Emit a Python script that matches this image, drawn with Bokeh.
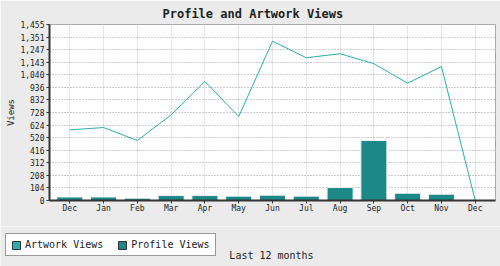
from bokeh.plotting import figure
from bokeh.layouts import column
from bokeh.models import (Range1d, FixedTicker, Legend, LegendItem, ColumnDataSource, Label)
from bokeh.embed import file_html
from bokeh.resources import INLINE

months = ["Dec", "Jan", "Feb", "Mar", "Apr", "May", "Jun", "Jul", "Aug", "Sep", "Oct", "Nov", "Dec"]
artwork_views = [584, 603, 496, 708, 984, 694, 1317, 1180, 1213, 1131, 970, 1108, 0]
profile_views = [29, 29, 19, 41, 41, 36, 44, 36, 107, 496, 60, 52, 0]
y_max = 1455
y_tick_labels = ["0", "104", "208", "312", "416", "520", "624", "728", "832", "936",
                 "1,040", "1,143", "1,247", "1,351", "1,455"]

FONT = "DejaVu Sans Mono"
LINE_C = "#2aaeae"
BAR_C = "#1c8888"
BG = "#ebebeb"
NAN = float("nan")

xs = list(range(len(months)))
src = ColumnDataSource(dict(x=xs, art=artwork_views, prof=profile_views))

p = figure(width=500, height=226, output_backend="svg", toolbar_location=None,
           x_range=Range1d(-0.6, len(months) - 0.4), y_range=Range1d(0, y_max),
           min_border_left=49, min_border_right=5, min_border_top=24, min_border_bottom=26,
           background_fill_color="white", border_fill_color=BG, frame_align=False)

p.title.text = "Profile and Artwork Views"
p.title.text_font = FONT
p.title.text_font_size = "12px"
p.title.text_font_style = "bold"
p.title.text_color = "#222222"
p.title.align = "left"
p.title.offset = 113
p.title.standoff = 8

p.outline_line_color = "#aaaaaa"
p.outline_line_width = 1

bars = p.vbar(x="x", top="prof", width=0.77, source=src, fill_color=BAR_C,
              line_color="#f2f2f2", line_width=1)
line = p.line(x="x", y="art", source=src, line_color=LINE_C, line_width=1)

yt = [y_max * i / 14 for i in range(15)]
p.yaxis.ticker = FixedTicker(ticks=yt)
p.yaxis.major_label_overrides = {t: lab for t, lab in zip(yt, y_tick_labels)}
p.xaxis.ticker = FixedTicker(ticks=xs)
p.xaxis.major_label_overrides = {i: m for i, m in enumerate(months)}

for ax in (p.xaxis[0], p.yaxis[0]):
    ax.major_label_text_font = FONT
    ax.major_label_text_font_size = "8px"
    ax.major_label_text_color = "#222222"
    ax.axis_line_color = "#333333"
    ax.axis_line_width = 2
    ax.major_tick_line_color = "#333333"
    ax.major_tick_out = 3
    ax.major_tick_in = 0
    ax.minor_tick_line_color = None
    ax.axis_label_text_font = FONT
    ax.axis_label_text_font_style = "normal"
    ax.axis_label_text_color = "#222222"

p.yaxis.axis_label = "Views"
p.yaxis.axis_label_text_font_size = "9px"
p.yaxis.major_label_standoff = 2
p.yaxis.axis_label_standoff = 1
p.xaxis.major_label_standoff = 0

p.xgrid.grid_line_color = "#e6e6e6"
p.xgrid.grid_line_width = 1
p.ygrid.grid_line_color = "#999999"
p.ygrid.grid_line_dash = "1 2"
p.ygrid.grid_line_width = 1

# bottom strip: legend and x-axis title
p2 = figure(width=500, height=40, output_backend="svg", toolbar_location=None,
            x_range=Range1d(0, 500), y_range=Range1d(0, 40),
            x_axis_location=None, y_axis_location=None,
            min_border=0, min_border_left=0, min_border_right=0,
            min_border_top=0, min_border_bottom=0,
            background_fill_color=BG, border_fill_color=BG,
            outline_line_color=None, frame_align=False)
p2.grid.visible = False

sw_art = p2.vbar(x=[NAN], top=[NAN], width=0.5, fill_color=LINE_C, line_color="#333333", line_width=1)
sw_prof = p2.vbar(x=[NAN], top=[NAN], width=0.5, fill_color=BAR_C, line_color="#333333", line_width=1)

legend = Legend(items=[LegendItem(label="Artwork Views", renderers=[sw_art]),
                       LegendItem(label="Profile Views", renderers=[sw_prof])],
                orientation="horizontal", location=(5, 10),
                label_text_font=FONT, label_text_font_size="10px",
                label_text_color="#222222",
                border_line_color="#333333", border_line_width=1,
                background_fill_color="white", background_fill_alpha=1,
                glyph_width=10, glyph_height=10, padding=5, spacing=14,
                label_standoff=4, margin=0, label_height=10)
p2.add_layout(legend, "center")

xlab = Label(x=271, y=11, x_units="screen", y_units="screen", text="Last 12 months",
             text_font=FONT, text_font_size="10px", text_color="#222222",
             text_align="center", text_baseline="middle")
p2.add_layout(xlab)

layout = column(p, p2, spacing=0)
open("out.html", "w").write(file_html(layout, INLINE))
